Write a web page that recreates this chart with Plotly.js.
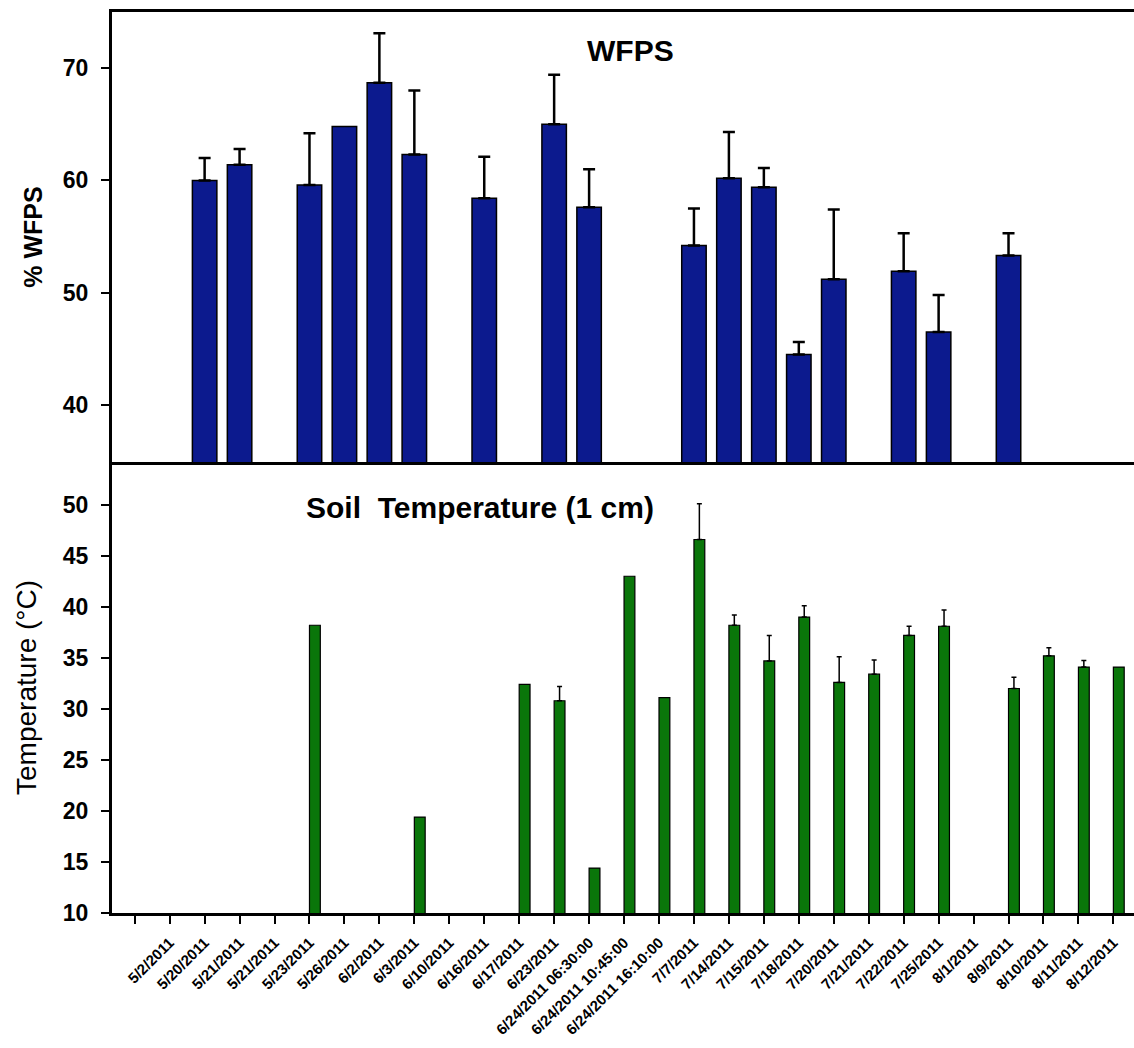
<!DOCTYPE html>
<html>
<head>
<meta charset="utf-8">
<script src="https://cdn.plot.ly/plotly-3.0.1.min.js"></script>
<style>
  html, body { margin: 0; padding: 0; background: #ffffff; overflow: hidden; }
  #chart { width: 1134px; height: 1048px; }
</style>
</head>
<body>
<div id="chart"></div>
<script>
// Sampling dates (shared x axis)
const sampleDates = [
  "5/2/2011", "5/20/2011", "5/21/2011", "5/21/2011", "5/23/2011", "5/26/2011",
  "6/2/2011", "6/3/2011", "6/10/2011", "6/16/2011", "6/17/2011", "6/23/2011",
  "6/24/2011 06:30:00", "6/24/2011 10:45:00", "6/24/2011 16:10:00",
  "7/7/2011", "7/14/2011", "7/15/2011", "7/18/2011", "7/20/2011", "7/21/2011",
  "7/22/2011", "7/25/2011", "8/1/2011", "8/9/2011", "8/10/2011", "8/11/2011", "8/12/2011"
];

// Water-filled pore space (%), mean and upper error (null = not measured)
const wfpsMean = [
  null, 60.0, 61.4, null, 59.6, 64.8,
  68.7, 62.3, null, 58.4, null, 65.0,
  57.6, null, null,
  54.2, 60.2, 59.4, 44.5, 51.2, null,
  51.9, 46.5, null, 53.3, null, null, null
];
const wfpsErr = [
  null, 2.0, 1.4, null, 4.6, null,
  4.4, 5.7, null, 3.7, null, 4.4,
  3.4, null, null,
  3.3, 4.1, 1.7, 1.1, 6.2, null,
  3.4, 3.3, null, 2.0, null, null, null
];

// Soil temperature at 1 cm (°C), mean and upper error
const tempMean = [
  null, null, null, null, 38.2, null,
  null, 19.4, null, null, 32.4, 30.8,
  14.4, 43.0, 31.1,
  46.6, 38.2, 34.7, 39.0, 32.6, 33.4,
  37.2, 38.1, null, 32.0, 35.2, 34.1, 34.1
];
const tempErr = [
  null, null, null, null, null, null,
  null, null, null, null, null, 1.4,
  null, null, null,
  3.5, 1.0, 2.5, 1.1, 2.5, 1.4,
  0.9, 1.6, null, 1.1, 0.8, 0.65, null
];

// Category slots: first tick is a blank slot, dates start at 1
const slot = sampleDates.map((_, i) => i + 1);
const tickVals = [0].concat(slot);
const tickText = [""].concat(sampleDates);

// One-sided (upward) error bars; missing entries draw nothing
const upErr = errs => errs.map(e => (e == null ? NaN : e));
const downErr = errs => errs.map(e => (e == null ? NaN : 0));

const FONT = "Arial, 'Liberation Sans', sans-serif";

const wfpsTrace = {
  type: "bar",
  x: slot,
  y: wfpsMean,
  xaxis: "x2",
  yaxis: "y",
  width: 0.7,
  marker: { color: "#0c1a8e", line: { color: "#000000", width: 1.5 } },
  error_y: {
    type: "data", symmetric: false, array: upErr(wfpsErr), arrayminus: downErr(wfpsErr),
    color: "#000000", thickness: 2.5, width: 6
  },
  hoverinfo: "skip"
};

const tempTrace = {
  type: "bar",
  x: slot,
  y: tempMean,
  xaxis: "x",
  yaxis: "y2",
  width: 0.31,
  offset: 0,
  marker: { color: "#0a760a", line: { color: "#000000", width: 1.2 } },
  error_y: {
    type: "data", symmetric: false, array: upErr(tempErr), arrayminus: downErr(tempErr),
    color: "#000000", thickness: 1.5, width: 2.5
  },
  hoverinfo: "skip"
};

const xRange = [-0.65, 28.59];

const layout = {
  width: 1134,
  height: 1048,
  margin: { l: 112, r: 0, t: 12, b: 135, pad: 0 },
  paper_bgcolor: "#ffffff",
  plot_bgcolor: "#ffffff",
  showlegend: false,
  bargap: 0,
  font: { family: FONT, color: "#000000" },
  xaxis: {
    anchor: "y2",
    domain: [0, 1],
    range: xRange,
    tickmode: "array",
    tickvals: tickVals,
    ticktext: tickText,
    tickangle: -45,
    tickfont: { family: FONT, size: 15, color: "#000000", weight: "bold" },
    ticklabelstandoff: 4,
    ticks: "outside",
    ticklen: 8,
    tickwidth: 2,
    tickcolor: "#000000",
    showline: true,
    linecolor: "#000000",
    linewidth: 3,
    showgrid: false,
    zeroline: false
  },
  xaxis2: {
    anchor: "y",
    matches: "x",
    range: xRange,
    showticklabels: false,
    ticks: "",
    showline: true,
    mirror: true,
    linecolor: "#000000",
    linewidth: 3,
    showgrid: false,
    zeroline: false
  },
  yaxis: {
    domain: [0.5006, 1],
    range: [34.92, 75],
    tickvals: [40, 50, 60, 70],
    ticks: "outside",
    ticklen: 8,
    tickwidth: 2,
    tickcolor: "#000000",
    ticklabelstandoff: 8,
    tickfont: { family: FONT, size: 23, color: "#000000", weight: "bold" },
    showline: true,
    linecolor: "#000000",
    linewidth: 3,
    showgrid: false,
    zeroline: false,
    title: {
      text: "% WFPS",
      standoff: 14,
      font: { family: FONT, size: 25, color: "#000000", weight: "bold" }
    }
  },
  yaxis2: {
    domain: [0, 0.5006],
    range: [10, 54.2],
    tickvals: [10, 15, 20, 25, 30, 35, 40, 45, 50],
    ticks: "outside",
    ticklen: 8,
    tickwidth: 2,
    tickcolor: "#000000",
    ticklabelstandoff: 8,
    tickfont: { family: FONT, size: 23, color: "#000000", weight: "bold" },
    showline: true,
    linecolor: "#000000",
    linewidth: 3,
    showgrid: false,
    zeroline: false,
    title: {
      text: "Temperature (°C)",
      standoff: 18,
      font: { family: FONT, size: 28, color: "#000000" }
    }
  },
  annotations: [
    {
      text: "WFPS", xref: "paper", yref: "paper",
      x: 0.507, y: 0.957, xanchor: "center", yanchor: "middle", showarrow: false,
      font: { family: FONT, size: 30, color: "#000000", weight: "bold" }
    },
    {
      text: "Soil  Temperature (1 cm)", xref: "paper", yref: "paper",
      x: 0.36, y: 0.45, xanchor: "center", yanchor: "middle", showarrow: false,
      font: { family: FONT, size: 30, color: "#000000", weight: "bold" }
    }
  ]
};

Plotly.newPlot("chart", [wfpsTrace, tempTrace], layout, { displayModeBar: false, staticPlot: true });
</script>
</body>
</html>
